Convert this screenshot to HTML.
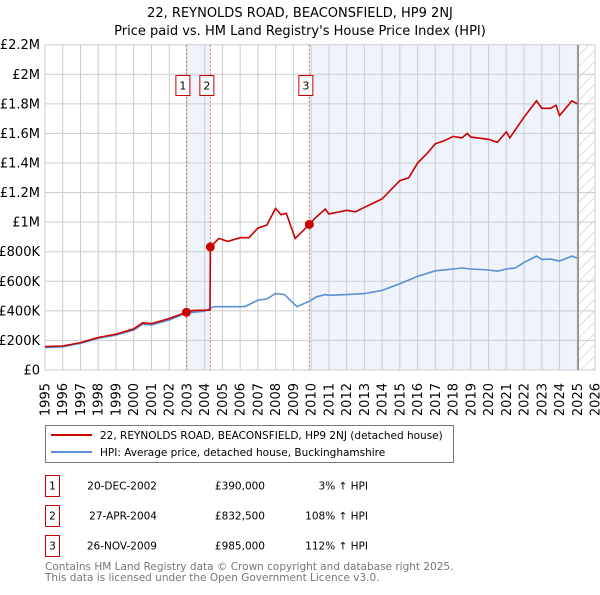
<!DOCTYPE html>
<html><head><meta charset="utf-8"><style>
body{margin:0;background:#fff;font-family:"Liberation Sans","DejaVu Sans",sans-serif;}
svg text{font-family:"DejaVu Sans","Liberation Sans",sans-serif;}
</style></head><body>
<svg id="c" width="600" height="590" viewBox="0 0 600 590">
<defs><pattern id="hatch" width="8" height="8" patternUnits="userSpaceOnUse" patternTransform="rotate(45)"><line x1="0" y1="0" x2="0" y2="8" stroke="#bbb" stroke-width="1"/></pattern></defs>
<text x="300" y="17" text-anchor="middle" font-size="13">22, REYNOLDS ROAD, BEACONSFIELD, HP9 2NJ</text>
<text x="300" y="35" text-anchor="middle" font-size="13">Price paid vs. HM Land Registry's House Price Index (HPI)</text>
<g id="plot"></g>
<g>
<rect x="45.5" y="425.5" width="408" height="37" fill="#fff" stroke="#777"/>
<line x1="51" y1="435" x2="92" y2="435" stroke="#cc0000" stroke-width="2"/>
<text x="100" y="439" font-size="10.5">22, REYNOLDS ROAD, BEACONSFIELD, HP9 2NJ (detached house)</text>
<line x1="51" y1="452" x2="92" y2="452" stroke="#5b8fd4" stroke-width="2"/>
<text x="100" y="456" font-size="10.5">HPI: Average price, detached house, Buckinghamshire</text>
</g>
<g id="table" font-size="10.5"></g>
<text x="45" y="570" font-size="10.5" fill="#777">Contains HM Land Registry data © Crown copyright and database right 2025.</text>
<text x="45" y="581" font-size="10.5" fill="#777">This data is licensed under the Open Government Licence v3.0.</text>
</svg>
<script>
const hpiYears=[1995,1996,1997,1998,1999,2000,2000.5,2001,2002,2003,2004,2004.5,2005,2006,2006.3,2007,2007.5,2008,2008.5,2009.2,2009.9,2010.3,2010.8,2011,2012,2013,2014,2015,2016,2017,2018,2018.5,2019,2020,2020.5,2021,2021.5,2022,2022.7,2023,2023.5,2024,2024.7,2025];
const hpiValues=[153000,157000,180000,214000,236000,270000,310000,304000,338000,387000,398000,428000,428000,428000,430000,473000,480000,518000,510000,428000,465000,495000,510000,505000,510000,517000,538000,583000,633000,671000,683000,690000,683000,676000,668000,683000,690000,728000,770000,748000,750000,737000,770000,757000];
const redYears=[1995,1996,1997,1998,1999,2000,2000.5,2001,2002,2002.97,2003.3,2004.3,2004.32,2004.8,2005.3,2006,2006.5,2007,2007.5,2008,2008.3,2008.6,2009.1,2009.9,2010.2,2010.8,2011,2012,2012.5,2013,2014,2015,2015.5,2016,2016.5,2017,2017.5,2018,2018.5,2018.8,2019,2020,2020.5,2021,2021.2,2022,2022.7,2023,2023.5,2023.8,2024,2024.7,2025];
const redValues=[158000,162000,185000,220000,243000,278000,319000,313000,348000,390000,402000,405000,832500,890000,870000,895000,895000,960000,980000,1093000,1050000,1060000,890000,985000,1025000,1088000,1055000,1080000,1070000,1100000,1157000,1280000,1300000,1400000,1460000,1530000,1550000,1580000,1570000,1600000,1575000,1560000,1540000,1610000,1570000,1710000,1820000,1770000,1770000,1790000,1720000,1820000,1800000];
const saleYears=[2002.97,2004.32,2009.9];
const saleValues=[390000,832500,985000];
const saleDates=["20-DEC-2002","27-APR-2004","26-NOV-2009"];
const salePrices=["£390,000","£832,500","£985,000"];
const saleHpi=["3% ↑ HPI","108% ↑ HPI","112% ↑ HPI"];
const yTicks=[0,200000,400000,600000,800000,1000000,1200000,1400000,1600000,1800000,2000000,2200000];
const yTickLabels=["£0","£200K","£400K","£600K","£800K","£1M","£1.2M","£1.4M","£1.6M","£1.8M","£2M","£2.2M"];
const xTicks=[1995,1996,1997,1998,1999,2000,2001,2002,2003,2004,2005,2006,2007,2008,2009,2010,2011,2012,2013,2014,2015,2016,2017,2018,2019,2020,2021,2022,2023,2024,2025,2026];
const dataEnd=2025.05;
const L=45,R=595,T=44.7,B=370;
const X=y=>L+(y-1995)/(2026-1995)*(R-L);
const Y=v=>B-v/2200000*(B-T);
const NS="http://www.w3.org/2000/svg";
const g=document.getElementById('plot');
function mk(tag,attrs,parent){const e=document.createElementNS(NS,tag);for(const k in attrs)e.setAttribute(k,attrs[k]);(parent||g).appendChild(e);return e;}
let r=mk('rect',{x:X(saleYears[0]),y:T,width:X(saleYears[1])-X(saleYears[0]),height:B-T,fill:'#eef3fc'});


r=mk('rect',{x:X(saleYears[2]),y:T,width:X(dataEnd)-X(saleYears[2]),height:B-T,fill:'#eef3fc'});


r=mk('rect',{x:X(dataEnd),y:T,width:R-X(dataEnd),height:B-T,fill:'url(#hatch)'});


xTicks.forEach(t=>{const l=mk('line',{x1:X(t),x2:X(t),y1:T,y2:B,stroke:'#cccccc','stroke-width':1});


const tx=mk('text',{x:0,y:0,'font-size':13,'text-anchor':'end',transform:`translate(${X(t)+4.5},383) rotate(-90)`});
tx.textContent=t;

});
yTicks.forEach((t,i)=>{const l=mk('line',{x1:L,x2:R,y1:Y(t),y2:Y(t),stroke:'#cccccc','stroke-width':1});


const tx=mk('text',{x:40,y:Y(t)+4.5,'font-size':13,'text-anchor':'end'});
tx.textContent=yTickLabels[i];

});
let vl=mk('line',{x1:X(dataEnd),x2:X(dataEnd),y1:T,y2:B,stroke:'#888','stroke-width':1.5});


saleYears.forEach((s,i)=>{const l=mk('line',{x1:X(s),x2:X(s),y1:T,y2:B,stroke:'#e06666','stroke-width':1,'stroke-dasharray':'2,2'});


const b=mk('rect',{x:X(s)-10.5,y:75.5,width:14,height:20,fill:'#fff',stroke:'#cc0000'});


const tx=mk('text',{x:X(s)-3.5,y:89.5,'font-size':11,'text-anchor':'middle'});
tx.textContent=i+1;

});
function pts(xs,vs){return xs.map((x,i)=>X(x).toFixed(1)+','+Y(vs[i]).toFixed(1)).join(' ');}
let p=mk('polyline',{points:pts(hpiYears,hpiValues),fill:'none',stroke:'#5b8fd4','stroke-width':1.6});


p=mk('polyline',{points:pts(redYears,redValues),fill:'none',stroke:'#cc0000','stroke-width':1.6});


saleYears.forEach((s,i)=>{const c=mk('circle',{cx:X(s),cy:Y(saleValues[i]),r:4.5,fill:'#cc0000'});

});
const tb=document.getElementById('table');
saleYears.forEach((s,i)=>{const y0=475.5+i*30;
const b=mk('rect',{x:45.5,y:y0,width:14,height:21,fill:'#fff',stroke:'#cc0000'},tb);


const cells=[[52.5,'middle',String(i+1),'table-index'],[157,'end',saleDates[i],'table-date'],[265,'end',salePrices[i],'table-price'],[368,'end',saleHpi[i],'table-hpi-change']];
cells.forEach(c=>{const t=mk('text',{x:c[0],y:y0+14,'text-anchor':c[1]},tb);
t.textContent=c[2];

});});
</script>
</body></html>
